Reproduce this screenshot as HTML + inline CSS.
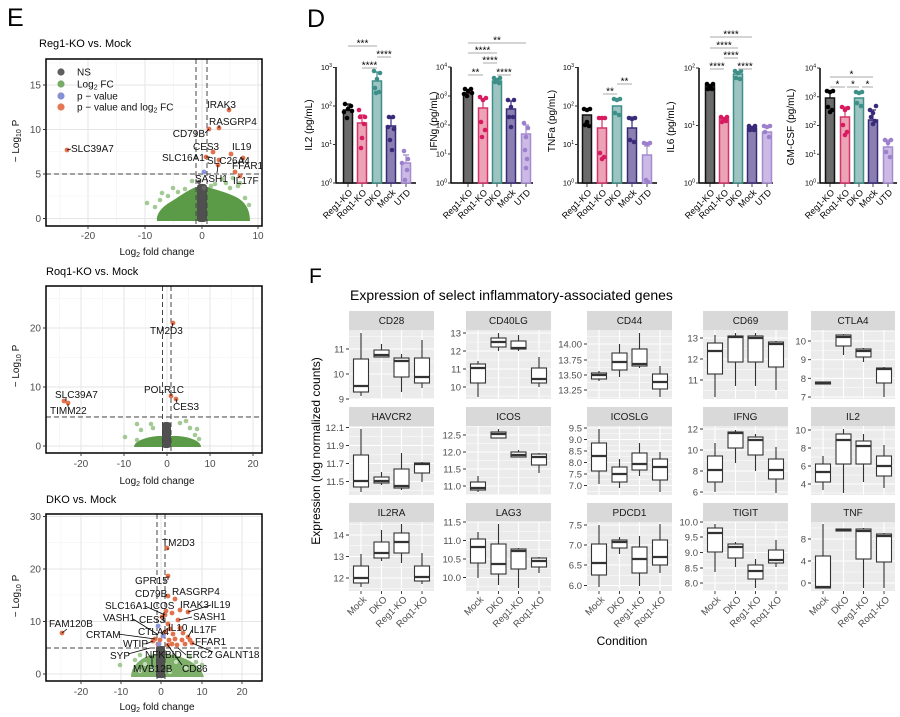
<!DOCTYPE html>
<html><head><meta charset="utf-8">
<style>
html,body{margin:0;padding:0;background:#fff;}
svg{display:block;font-family:"Liberation Sans",Arial,sans-serif;}
.gM{stroke:#e6e6e6;stroke-width:1;fill:none}
.gm{stroke:#f2f2f2;stroke-width:.6;fill:none}
.dash{stroke:#444;stroke-width:1;stroke-dasharray:5,3;fill:none}
.tk{stroke:#333;stroke-width:.9;fill:none}
.tl{font-size:10px;fill:#4d4d4d}
.lb{font-size:10px;fill:#111}
.cn{stroke:#000;stroke-width:.8;fill:none}
.r{fill:#e2714c}
.b{fill:#8a94d8}
.lg{fill:#93c082;opacity:.85}
.mj{stroke:#fff;stroke-width:1.1;fill:none}
.mn{stroke:#fff;stroke-width:.5;fill:none}
.bx{fill:#fff;stroke:#333;stroke-width:1.1}
.wk{stroke:#333;stroke-width:1.1;fill:none}
.md{stroke:#333;stroke-width:2.2;fill:none}
.ft{font-size:9.5px;fill:#4d4d4d}
.st{font-size:10px;fill:#1a1a1a}
.ax{stroke:#000;stroke-width:1.5;fill:none}
.dt{font-size:9px;fill:#000}
.yt{font-size:7.5px;fill:#000}
.sg{stroke:#aaa;stroke-width:1;fill:none}
.ss{font-size:10px;fill:#000;text-anchor:middle}
</style></head><body>
<svg width="900" height="717" viewBox="0 0 900 717" xmlns="http://www.w3.org/2000/svg">
<defs>
<clipPath id="c1"><rect x="46" y="59" width="216" height="167"/></clipPath>
<clipPath id="c2"><rect x="46" y="286" width="216" height="167"/></clipPath>
<clipPath id="c3"><rect x="46" y="514" width="216" height="167"/></clipPath>
</defs>

<!-- ================= PANEL E ================= -->
<text x="7" y="26" font-size="25">E</text>

<!-- Volcano 1 -->
<text x="39" y="47" font-size="11">Reg1-KO vs. Mock</text>
<g clip-path="url(#c1)">
<path class="gm" d="M60,59V226M116.5,59V226M173.5,59V226M230,59V226M46,196H262M46,151.5H262M46,107H262M46,63H262"/>
<path class="gM" d="M88,59V226M145,59V226M202,59V226M258,59V226M46,218.5H262M46,174H262M46,129.5H262M46,85H262"/>
<path d="M157,221C156,213 163,206 172,201C180,196 188,190 196,187L208,187C216,190 226,192 236,197C244,201 250,208 250,221Z" fill="#5b9b48"/>
<g class="lg">
<circle cx="147" cy="203" r="2.3"/><circle cx="162" cy="193" r="2.3"/><circle cx="168" cy="196" r="2.3"/><circle cx="173" cy="188" r="2.3"/><circle cx="178" cy="192" r="2.3"/><circle cx="185" cy="189" r="2.3"/><circle cx="192" cy="181" r="2.3"/><circle cx="211" cy="186" r="2.3"/><circle cx="222" cy="179" r="2.3"/><circle cx="226" cy="183" r="2.3"/><circle cx="233" cy="178" r="2.3"/><circle cx="238" cy="186" r="2.3"/><circle cx="240" cy="183" r="2.3"/><circle cx="245" cy="198" r="2.3"/><circle cx="249" cy="205" r="2.3"/><circle cx="155" cy="207" r="2.3"/><circle cx="160" cy="200" r="2.3"/><circle cx="230" cy="188" r="2.3"/><circle cx="215" cy="184" r="2.3"/>
</g>
<rect x="197" y="184" width="10" height="38" rx="3" fill="#505050"/>
<circle cx="199" cy="182" r="2.2" fill="#666"/><circle cx="204" cy="188" r="2.2" fill="#666"/>
<path class="dash" d="M196,59V226M207,59V226M46,174H262"/>
<g class="r">
<circle cx="229" cy="110" r="2.4"/><circle cx="219" cy="128" r="2.4"/><circle cx="209" cy="129" r="2.4"/><circle cx="213" cy="152" r="2.4"/><circle cx="231" cy="154" r="2.4"/><circle cx="243" cy="158" r="2.4"/><circle cx="219" cy="160" r="2.4"/><circle cx="218" cy="165" r="2.4"/><circle cx="235" cy="172" r="2.4"/><circle cx="240" cy="176" r="2.4"/><circle cx="67" cy="150" r="2.4"/><circle cx="206" cy="157" r="2.4"/>
</g>
<circle class="b" cx="204" cy="172" r="2.4"/>
<path class="cn" d="M229,107V110M219,125V128M205,133L209,129M206,157H210M217,173L218,165M238,178L240,176M71,149L67,150M243,162V158"/>
<g class="lb">
<text x="207" y="108">IRAK3</text><text x="209" y="125">RASGRP4</text><text x="205" y="137" text-anchor="end">CD79B</text>
<text x="193" y="150">CES3</text><text x="232" y="150">IL19</text><text x="162" y="161">SLC16A1</text>
<text x="207" y="164">SLC26A4</text><text x="232" y="169">FFAR1</text><text x="195" y="182">SASH1</text>
<text x="233" y="184">IL17F</text><text x="71" y="152">SLC39A7</text>
</g>
</g>
<!-- legend -->
<circle cx="61" cy="72" r="3.6" fill="#5f5f5f"/>
<circle cx="61" cy="84" r="3.6" fill="#79ab68"/>
<circle cx="61" cy="96" r="3.6" fill="#8690d6"/>
<circle cx="61" cy="107" r="3.6" fill="#e57752"/>
<g font-size="10" fill="#111">
<text x="77" y="75.5">NS</text>
<text x="77" y="87.5">Log<tspan font-size="7" dy="2">2</tspan><tspan dy="-2"> FC</tspan></text>
<text x="77" y="99.5">p − value</text>
<text x="77" y="110.5">p − value and log<tspan font-size="7" dy="2">2</tspan><tspan dy="-2"> FC</tspan></text>
</g>
<rect x="46" y="59" width="216" height="167" fill="none" stroke="#000" stroke-width="1.5"/>
<path class="tk" d="M43,218.5H46M43,174H46M43,129.5H46M43,85H46M88,226V229M145,226V229M202,226V229M258,226V229"/>
<g class="tl" text-anchor="end"><text x="41" y="222">0</text><text x="41" y="177.5">5</text><text x="41" y="133">10</text><text x="41" y="88.5">15</text></g>
<g class="tl" text-anchor="middle"><text x="88" y="239">-20</text><text x="145" y="239">-10</text><text x="202" y="239">0</text><text x="258" y="239">10</text></g>
<text x="157" y="255" font-size="10" text-anchor="middle" fill="#111">Log<tspan font-size="7" dy="2">2</tspan><tspan dy="-2"> fold change</tspan></text>
<text transform="translate(19,141) rotate(-90)" font-size="10" text-anchor="middle" fill="#111">− Log<tspan font-size="7" dy="2">10</tspan><tspan dy="-2"> P</tspan></text>

<!-- Volcano 2 -->
<text x="46" y="275" font-size="11">Roq1-KO vs. Mock</text>
<g clip-path="url(#c2)">
<path class="gm" d="M59.5,286V453M102.5,286V453M145.5,286V453M188.5,286V453M231.5,286V453M46,416.5H262M46,357.5H262M46,298.5H262"/>
<path class="gM" d="M81,286V453M124,286V453M167,286V453M210,286V453M253,286V453M46,446H262M46,387H262M46,328H262"/>
<path d="M134,447C134,441 146,437 158,436L178,436C190,437 201,441 201,447Z" fill="#5b9b48"/>
<g class="lg">
<circle cx="125" cy="437" r="2.3"/><circle cx="137" cy="424" r="2.3"/><circle cx="141" cy="430" r="2.3"/><circle cx="151" cy="424" r="2.3"/><circle cx="153" cy="428" r="2.3"/><circle cx="180" cy="423" r="2.3"/><circle cx="186" cy="421" r="2.3"/><circle cx="190" cy="428" r="2.3"/><circle cx="197" cy="429" r="2.3"/><circle cx="199" cy="439" r="2.3"/><circle cx="137" cy="440" r="2.3"/><circle cx="195" cy="435" r="2.3"/>
</g>
<rect x="162" y="422" width="9" height="26" rx="3" fill="#505050"/>
<path class="dash" d="M162.5,286V453M171,286V453M46,417H262"/>
<g class="r"><circle cx="173" cy="323" r="2.4"/><circle cx="171" cy="396" r="2.4"/><circle cx="176" cy="399" r="2.4"/><circle cx="64" cy="401" r="2.4"/><circle cx="68" cy="403" r="2.4"/></g>
<path class="cn" d="M172,327L173,323M171,393V396M177,403L176,399M66,398V401M68,407V404"/>
<g class="lb">
<text x="150" y="334">TM2D3</text><text x="144" y="393">POLR1C</text><text x="173" y="410">CES3</text>
<text x="55" y="398">SLC39A7</text><text x="50" y="414">TIMM22</text>
</g>
</g>
<rect x="46" y="286" width="216" height="167" fill="none" stroke="#000" stroke-width="1.5"/>
<path class="tk" d="M43,446H46M43,387H46M43,328H46M81,453V456M124,453V456M167,453V456M210,453V456M253,453V456"/>
<g class="tl" text-anchor="end"><text x="41" y="449.5">0</text><text x="41" y="390.5">10</text><text x="41" y="331.5">20</text></g>
<g class="tl" text-anchor="middle"><text x="81" y="467">-20</text><text x="124" y="467">-10</text><text x="167" y="467">0</text><text x="210" y="467">10</text><text x="253" y="467">20</text></g>
<text x="157" y="484" font-size="10" text-anchor="middle" fill="#111">Log<tspan font-size="7" dy="2">2</tspan><tspan dy="-2"> fold change</tspan></text>
<text transform="translate(19,366) rotate(-90)" font-size="10" text-anchor="middle" fill="#111">− Log<tspan font-size="7" dy="2">10</tspan><tspan dy="-2"> P</tspan></text>

<!-- Volcano 3 -->
<text x="46" y="503" font-size="11">DKO vs. Mock</text>
<g clip-path="url(#c3)">
<path class="gm" d="M61,514V681M101,514V681M141,514V681M181,514V681M222,514V681M262,514V681M46,648H262M46,595H262M46,542.5H262"/>
<path class="gM" d="M81,514V681M121,514V681M161,514V681M202,514V681M242,514V681M46,674H262M46,621.5H262M46,569H262M46,516.5H262"/>
<path d="M131,677C131,665 142,657 154,654L168,654C182,656 200,663 204,677Z" fill="#7fb06b"/>
<g fill="#e9f2e4" opacity=".7"><circle cx="145" cy="664" r="2"/><circle cx="152" cy="669" r="2"/><circle cx="176" cy="662" r="2"/><circle cx="186" cy="668" r="2"/><circle cx="170" cy="672" r="2"/><circle cx="140" cy="671" r="2"/></g>
<g class="lg"><circle cx="120" cy="665" r="2.3"/><circle cx="202" cy="665" r="2.3"/><circle cx="135" cy="660" r="2.3"/><circle cx="140" cy="655" r="2.3"/><circle cx="190" cy="657" r="2.3"/><circle cx="196" cy="662" r="2.3"/></g>
<rect x="156" y="646" width="9" height="32" rx="2" fill="#505050"/>
<path class="dash" d="M157,514V681M165,514V681M46,648H262"/>
<g class="r">
<circle cx="167" cy="548" r="2.4"/><circle cx="168" cy="576" r="2.4"/><circle cx="168" cy="596" r="2.4"/><circle cx="175" cy="599" r="2.4"/><circle cx="166" cy="611" r="2.4"/><circle cx="172" cy="613" r="2.4"/><circle cx="165" cy="615" r="2.4"/><circle cx="180" cy="610" r="2.4"/><circle cx="188" cy="612" r="2.4"/><circle cx="178" cy="620" r="2.4"/><circle cx="168" cy="624" r="2.4"/><circle cx="170" cy="629" r="2.4"/><circle cx="183" cy="633" r="2.4"/><circle cx="188" cy="637" r="2.4"/><circle cx="190" cy="640" r="2.4"/><circle cx="192" cy="643" r="2.4"/><circle cx="185" cy="644" r="2.4"/><circle cx="173" cy="634" r="2.4"/><circle cx="175" cy="639" r="2.4"/><circle cx="169" cy="640" r="2.4"/><circle cx="172" cy="644" r="2.4"/><circle cx="168" cy="645" r="2.4"/><circle cx="177" cy="645" r="2.4"/><circle cx="162" cy="617" r="2.4"/><circle cx="62" cy="633" r="2.4"/><circle cx="155" cy="639" r="2.4"/><circle cx="153" cy="641" r="2.4"/><circle cx="160" cy="640" r="2.4"/><circle cx="165" cy="632" r="2.4"/><circle cx="180" cy="628" r="2.4"/><circle cx="158" cy="644" r="2.4"/><circle cx="182" cy="640" r="2.4"/>
</g>
<g class="b"><circle cx="158" cy="626" r="2.4"/><circle cx="163" cy="636" r="2.4"/><circle cx="159" cy="644" r="2.4"/></g>
<path class="cn" d="M145,606L165,615M211,605L188,612M133,619L157,634M192,617L179,620M67,629L62,633M192,630L188,637M118,634L155,639M213,652L192,643M128,654L150,648M182,665L167,644M152,656V667M146,644L153,641M186,655L178,648M163,621L164,612M165,630L161,634M168,550V548M168,580V576"/>
<g class="lb">
<text x="162" y="546">TM2D3</text><text x="135" y="584">GPR15</text><text x="135" y="597">CD79B</text><text x="172" y="595">RASGRP4</text>
<text x="105" y="609">SLC16A1</text><text x="150" y="609">ICOS</text><text x="180" y="608">IRAK3</text><text x="211" y="608">IL19</text>
<text x="103" y="621">VASH1</text><text x="139" y="623">CES3</text><text x="193" y="620">SASH1</text><text x="49" y="627">FAM120B</text>
<text x="168" y="631">IL10</text><text x="138" y="635">CTLA4</text><text x="191" y="633">IL17F</text><text x="86" y="638">CRTAM</text>
<text x="195" y="645">FFAR1</text><text x="123" y="647">WTIP</text><text x="215" y="658">GALNT18</text><text x="186" y="658">ERC2</text>
<text x="145" y="658">NFKBID</text><text x="110" y="659">SYP</text><text x="133" y="672">MVB12B</text><text x="182" y="672">CD86</text>
</g>
</g>
<rect x="46" y="514" width="216" height="167" fill="none" stroke="#000" stroke-width="1.5"/>
<path class="tk" d="M43,674H46M43,621.5H46M43,569H46M43,516.5H46M81,681V684M121,681V684M161,681V684M202,681V684M242,681V684"/>
<g class="tl" text-anchor="end"><text x="41" y="677.5">0</text><text x="41" y="625">10</text><text x="41" y="572.5">20</text><text x="41" y="520">30</text></g>
<g class="tl" text-anchor="middle"><text x="81" y="695">-20</text><text x="121" y="695">-10</text><text x="161" y="695">0</text><text x="202" y="695">10</text><text x="242" y="695">20</text></g>
<text x="157" y="710" font-size="10" text-anchor="middle" fill="#111">Log<tspan font-size="7" dy="2">2</tspan><tspan dy="-2"> fold change</tspan></text>
<text transform="translate(19,596) rotate(-90)" font-size="10" text-anchor="middle" fill="#111">− Log<tspan font-size="7" dy="2">10</tspan><tspan dy="-2"> P</tspan></text>

<!-- ================= PANEL D ================= -->
<text x="307" y="27" font-size="25">D</text>

<!-- IL2 -->
<path class="ax" d="M336,67V183H416"/>
<path class="tk" d="M333,183H336M333,144.5H336M333,106H336M333,67.5H336M348,183V187M362,183V187M377,183V187M391,183V187M406,183V187"/>
<g class="yt" text-anchor="end"><text x="332" y="185.5">10<tspan font-size="5" dy="-3">0</tspan></text><text x="332" y="147">10<tspan font-size="5" dy="-3">1</tspan></text><text x="332" y="108.5">10<tspan font-size="5" dy="-3">2</tspan></text><text x="332" y="70">10<tspan font-size="5" dy="-3">3</tspan></text></g>
<text transform="translate(312,125) rotate(-90)" font-size="10" text-anchor="middle">IL2 (pg/mL)</text>
<rect x="343.5" y="110" width="9" height="73" fill="#6b6b6b" stroke="#111" stroke-width="1.5"/>
<rect x="357.5" y="123" width="9" height="60" fill="#eba3b5" stroke="#d6336c" stroke-width="1.5"/>
<rect x="372.5" y="81" width="9" height="102" fill="#9dc4c1" stroke="#3f8f89" stroke-width="1.5"/>
<rect x="386.5" y="126" width="9" height="57" fill="#8a7fb0" stroke="#3a2a7a" stroke-width="1.5"/>
<rect x="401.5" y="163" width="9" height="20" fill="#cbb9e6" stroke="#a48bd0" stroke-width="1.5"/>
<path d="M348,110V104M345,104H351" stroke="#111" stroke-width="1.2"/>
<path d="M362,123V115M359,115H365" stroke="#d6336c" stroke-width="1.2"/>
<path d="M377,81V72M374,72H380" stroke="#3f8f89" stroke-width="1.2"/>
<path d="M391,126V118M388,118H394" stroke="#3a2a7a" stroke-width="1.2"/>
<path d="M406,163V155M403,155H409" stroke="#a48bd0" stroke-width="1.2"/>
<g fill="#000"><circle cx="345" cy="104" r="2.3"/><circle cx="351" cy="106" r="2.3"/><circle cx="348" cy="109" r="2.3"/><circle cx="344" cy="112" r="2.3"/><circle cx="352" cy="111" r="2.3"/><circle cx="347" cy="118" r="2.3"/></g>
<g fill="#d81b60"><circle cx="359" cy="110" r="2.3"/><circle cx="365" cy="117" r="2.3"/><circle cx="360" cy="117" r="2.3"/><circle cx="364" cy="124" r="2.3"/><circle cx="362" cy="138" r="2.3"/><circle cx="361" cy="148" r="2.3"/></g>
<g fill="#3f8f89"><circle cx="374" cy="71" r="2.3"/><circle cx="380" cy="73" r="2.3"/><circle cx="377" cy="79" r="2.3"/><circle cx="375" cy="88" r="2.3"/><circle cx="379" cy="92" r="2.3"/><circle cx="376" cy="93" r="2.3"/></g>
<g fill="#3a2a7a"><circle cx="389" cy="117" r="2.3"/><circle cx="393" cy="117" r="2.3"/><circle cx="388" cy="127" r="2.3"/><circle cx="394" cy="129" r="2.3"/><circle cx="390" cy="140" r="2.3"/><circle cx="392" cy="150" r="2.3"/></g>
<g fill="#9c80cc"><circle cx="404" cy="151" r="2.3"/><circle cx="408" cy="159" r="2.3"/><circle cx="402" cy="163" r="2.3"/><circle cx="407" cy="170" r="2.3"/><circle cx="405" cy="180" r="2.3"/></g>
<path class="sg" d="M348,46H377M377,57H391M362,68H377"/>
<text class="ss" x="362.5" y="46.5">***</text><text class="ss" x="384" y="57.5">****</text><text class="ss" x="369.5" y="68.5">****</text>
<g class="dt" text-anchor="end">
<text transform="translate(353,193) rotate(-45)">Reg1-KO</text><text transform="translate(367,193) rotate(-45)">Roq1-KO</text><text transform="translate(382,193) rotate(-45)">DKO</text><text transform="translate(396,193) rotate(-45)">Mock</text><text transform="translate(411,193) rotate(-45)">UTD</text>
</g>

<!-- IFNg -->
<path class="ax" d="M451,67V183H533"/>
<path class="tk" d="M448,183H451M448,154H451M448,125H451M448,96H451M448,67H451M468,183V187M483,183V187M497,183V187M511,183V187M526,183V187"/>
<g class="yt" text-anchor="end"><text x="447" y="185.5">10<tspan font-size="5" dy="-3">0</tspan></text><text x="447" y="156.5">10<tspan font-size="5" dy="-3">1</tspan></text><text x="447" y="127.5">10<tspan font-size="5" dy="-3">2</tspan></text><text x="447" y="98.5">10<tspan font-size="5" dy="-3">3</tspan></text><text x="447" y="69.5">10<tspan font-size="5" dy="-3">4</tspan></text></g>
<text transform="translate(437,121) rotate(-90)" font-size="10" text-anchor="middle">IFNg (pg/mL)</text>
<rect x="463.5" y="93" width="9" height="90" fill="#6b6b6b" stroke="#111" stroke-width="1.5"/>
<rect x="478.5" y="108" width="9" height="75" fill="#eba3b5" stroke="#d6336c" stroke-width="1.5"/>
<rect x="492.5" y="81" width="9" height="102" fill="#9dc4c1" stroke="#3f8f89" stroke-width="1.5"/>
<rect x="506.5" y="109" width="9" height="74" fill="#8a7fb0" stroke="#3a2a7a" stroke-width="1.5"/>
<rect x="521.5" y="134" width="9" height="49" fill="#cbb9e6" stroke="#a48bd0" stroke-width="1.5"/>
<path d="M483,108V99M480,99H486" stroke="#d6336c" stroke-width="1.2"/>
<path d="M511,109V101M508,101H514" stroke="#3a2a7a" stroke-width="1.2"/>
<path d="M526,134V125M523,125H529" stroke="#a48bd0" stroke-width="1.2"/>
<g fill="#000"><circle cx="465" cy="89" r="2.3"/><circle cx="471" cy="89" r="2.3"/><circle cx="468" cy="91" r="2.3"/><circle cx="464" cy="94" r="2.3"/><circle cx="472" cy="93" r="2.3"/><circle cx="467" cy="96" r="2.3"/></g>
<g fill="#d81b60"><circle cx="480" cy="97" r="2.3"/><circle cx="486" cy="98" r="2.3"/><circle cx="483" cy="100" r="2.3"/><circle cx="481" cy="122" r="2.3"/><circle cx="485" cy="130" r="2.3"/><circle cx="482" cy="137" r="2.3"/></g>
<g fill="#3f8f89"><circle cx="494" cy="78" r="2.3"/><circle cx="500" cy="78" r="2.3"/><circle cx="497" cy="80" r="2.3"/><circle cx="495" cy="82" r="2.3"/><circle cx="499" cy="83" r="2.3"/></g>
<g fill="#3a2a7a"><circle cx="508" cy="100" r="2.3"/><circle cx="514" cy="100" r="2.3"/><circle cx="511" cy="107" r="2.3"/><circle cx="509" cy="117" r="2.3"/><circle cx="513" cy="117" r="2.3"/><circle cx="511" cy="127" r="2.3"/></g>
<g fill="#9c80cc"><circle cx="524" cy="123" r="2.3"/><circle cx="528" cy="128" r="2.3"/><circle cx="526" cy="137" r="2.3"/><circle cx="525" cy="150" r="2.3"/><circle cx="527" cy="159" r="2.3"/><circle cx="526" cy="168" r="2.3"/></g>
<path class="sg" d="M468,43H526M468,53H497M483,63H497M468,75H483M497,75H511"/>
<text class="ss" x="497" y="43.5">**</text><text class="ss" x="482.5" y="53.5">****</text><text class="ss" x="490" y="63.5">****</text><text class="ss" x="475.5" y="75.5">**</text><text class="ss" x="504" y="75.5">****</text>
<g class="dt" text-anchor="end">
<text transform="translate(473,193) rotate(-45)">Reg1-KO</text><text transform="translate(488,193) rotate(-45)">Roq1-KO</text><text transform="translate(502,193) rotate(-45)">DKO</text><text transform="translate(516,193) rotate(-45)">Mock</text><text transform="translate(531,193) rotate(-45)">UTD</text>
</g>

<!-- TNFa -->
<path class="ax" d="M578,67V183H657"/>
<path class="tk" d="M575,183H578M575,144.5H578M575,106H578M575,67.5H578M587,183V187M602,183V187M617,183V187M632,183V187M647,183V187"/>
<g class="yt" text-anchor="end"><text x="574" y="185.5">10<tspan font-size="5" dy="-3">0</tspan></text><text x="574" y="147">10<tspan font-size="5" dy="-3">1</tspan></text><text x="574" y="108.5">10<tspan font-size="5" dy="-3">2</tspan></text><text x="574" y="70">10<tspan font-size="5" dy="-3">3</tspan></text></g>
<text transform="translate(555,121) rotate(-90)" font-size="10" text-anchor="middle">TNFa (pg/mL)</text>
<rect x="582.5" y="115" width="9" height="68" fill="#6b6b6b" stroke="#111" stroke-width="1.5"/>
<rect x="597.5" y="128" width="9" height="55" fill="#eba3b5" stroke="#d6336c" stroke-width="1.5"/>
<rect x="612.5" y="106" width="9" height="77" fill="#9dc4c1" stroke="#3f8f89" stroke-width="1.5"/>
<rect x="627.5" y="128" width="9" height="55" fill="#8a7fb0" stroke="#3a2a7a" stroke-width="1.5"/>
<rect x="642.5" y="155" width="9" height="28" fill="#cbb9e6" stroke="#a48bd0" stroke-width="1.5"/>
<path d="M602,128V117M599,117H605" stroke="#d6336c" stroke-width="1.2"/>
<path d="M632,128V117M629,117H635" stroke="#3a2a7a" stroke-width="1.2"/>
<path d="M647,155V146M644,146H650" stroke="#a48bd0" stroke-width="1.2"/>
<g fill="#000"><circle cx="584" cy="109" r="2.3"/><circle cx="590" cy="109" r="2.3"/><circle cx="587" cy="110" r="2.3"/><circle cx="585" cy="125" r="2.3"/><circle cx="589" cy="126" r="2.3"/><circle cx="587" cy="122" r="2.3"/></g>
<g fill="#d81b60"><circle cx="599" cy="118" r="2.3"/><circle cx="605" cy="118" r="2.3"/><circle cx="602" cy="118" r="2.3"/><circle cx="600" cy="153" r="2.3"/><circle cx="604" cy="157" r="2.3"/><circle cx="602" cy="159" r="2.3"/></g>
<g fill="#3f8f89"><circle cx="614" cy="99" r="2.3"/><circle cx="620" cy="99" r="2.3"/><circle cx="617" cy="100" r="2.3"/><circle cx="615" cy="113" r="2.3"/><circle cx="619" cy="115" r="2.3"/></g>
<g fill="#3a2a7a"><circle cx="629" cy="118" r="2.3"/><circle cx="635" cy="118" r="2.3"/><circle cx="632" cy="119" r="2.3"/><circle cx="630" cy="140" r="2.3"/><circle cx="634" cy="142" r="2.3"/></g>
<g fill="#9c80cc"><circle cx="644" cy="143" r="2.3"/><circle cx="650" cy="143" r="2.3"/><circle cx="647" cy="144" r="2.3"/><circle cx="646" cy="180" r="2.3"/><circle cx="648" cy="182" r="2.3"/></g>
<path class="sg" d="M603,94H617M617,84H632"/>
<text class="ss" x="610" y="94.5">**</text><text class="ss" x="624.5" y="84.5">**</text>
<g class="dt" text-anchor="end">
<text transform="translate(592,193) rotate(-45)">Reg1-KO</text><text transform="translate(607,193) rotate(-45)">Roq1-KO</text><text transform="translate(622,193) rotate(-45)">DKO</text><text transform="translate(637,193) rotate(-45)">Mock</text><text transform="translate(652,193) rotate(-45)">UTD</text>
</g>

<!-- IL6 -->
<path class="ax" d="M699,68V183H773"/>
<path class="tk" d="M696,183H699M696,125.5H699M696,68H699M710,183V187M724,183V187M738,183V187M752,183V187M767,183V187"/>
<g class="yt" text-anchor="end"><text x="695" y="185.5">10<tspan font-size="5" dy="-3">0</tspan></text><text x="695" y="128">10<tspan font-size="5" dy="-3">1</tspan></text><text x="695" y="70.5">10<tspan font-size="5" dy="-3">2</tspan></text></g>
<text transform="translate(674,127) rotate(-90)" font-size="10" text-anchor="middle">IL6 (pg/mL)</text>
<rect x="705.5" y="86" width="9" height="97" fill="#6b6b6b" stroke="#111" stroke-width="1.5"/>
<rect x="719.5" y="119" width="9" height="64" fill="#eba3b5" stroke="#d6336c" stroke-width="1.5"/>
<rect x="733.5" y="74" width="9" height="109" fill="#9dc4c1" stroke="#3f8f89" stroke-width="1.5"/>
<rect x="747.5" y="128" width="9" height="55" fill="#8a7fb0" stroke="#3a2a7a" stroke-width="1.5"/>
<rect x="762.5" y="132" width="9" height="51" fill="#cbb9e6" stroke="#a48bd0" stroke-width="1.5"/>
<g fill="#000"><circle cx="707" cy="84" r="2.3"/><circle cx="713" cy="84" r="2.3"/><circle cx="710" cy="86" r="2.3"/><circle cx="708" cy="89" r="2.3"/><circle cx="712" cy="89" r="2.3"/></g>
<g fill="#d81b60"><circle cx="721" cy="117" r="2.3"/><circle cx="727" cy="117" r="2.3"/><circle cx="724" cy="119" r="2.3"/><circle cx="722" cy="122" r="2.3"/><circle cx="726" cy="121" r="2.3"/></g>
<g fill="#3f8f89"><circle cx="735" cy="71" r="2.3"/><circle cx="741" cy="71" r="2.3"/><circle cx="738" cy="73" r="2.3"/><circle cx="736" cy="78" r="2.3"/><circle cx="740" cy="79" r="2.3"/></g>
<g fill="#3a2a7a"><circle cx="749" cy="126" r="2.3"/><circle cx="755" cy="126" r="2.3"/><circle cx="752" cy="128" r="2.3"/><circle cx="750" cy="130" r="2.3"/><circle cx="754" cy="130" r="2.3"/></g>
<g fill="#9c80cc"><circle cx="764" cy="126" r="2.3"/><circle cx="770" cy="126" r="2.3"/><circle cx="767" cy="127" r="2.3"/><circle cx="765" cy="132" r="2.3"/><circle cx="769" cy="137" r="2.3"/></g>
<path class="sg" d="M710,37H752M710,48H738M724,58H738M710,69H724M738,69H752"/>
<text class="ss" x="731" y="37.5">****</text><text class="ss" x="724" y="48.5">****</text><text class="ss" x="731" y="58.5">****</text><text class="ss" x="717" y="69.5">****</text><text class="ss" x="745" y="69.5">****</text>
<g class="dt" text-anchor="end">
<text transform="translate(715,193) rotate(-45)">Reg1-KO</text><text transform="translate(729,193) rotate(-45)">Roq1-KO</text><text transform="translate(743,193) rotate(-45)">DKO</text><text transform="translate(757,193) rotate(-45)">Mock</text><text transform="translate(772,193) rotate(-45)">UTD</text>
</g>

<!-- GM-CSF -->
<path class="ax" d="M820,68V183H897"/>
<path class="tk" d="M817,183H820M817,154.25H820M817,125.5H820M817,96.75H820M817,68H820M830,183V187M845,183V187M859,183V187M873,183V187M888,183V187"/>
<g class="yt" text-anchor="end"><text x="816" y="185.5">10<tspan font-size="5" dy="-3">0</tspan></text><text x="816" y="156.75">10<tspan font-size="5" dy="-3">1</tspan></text><text x="816" y="128">10<tspan font-size="5" dy="-3">2</tspan></text><text x="816" y="99.25">10<tspan font-size="5" dy="-3">3</tspan></text><text x="816" y="70.5">10<tspan font-size="5" dy="-3">4</tspan></text></g>
<text transform="translate(794,127) rotate(-90)" font-size="10" text-anchor="middle">GM-CSF (pg/mL)</text>
<rect x="825.5" y="98" width="9" height="85" fill="#6b6b6b" stroke="#111" stroke-width="1.5"/>
<rect x="840.5" y="117" width="9" height="66" fill="#eba3b5" stroke="#d6336c" stroke-width="1.5"/>
<rect x="854.5" y="98" width="9" height="85" fill="#9dc4c1" stroke="#3f8f89" stroke-width="1.5"/>
<rect x="868.5" y="120" width="9" height="63" fill="#8a7fb0" stroke="#3a2a7a" stroke-width="1.5"/>
<rect x="883.5" y="147" width="9" height="36" fill="#cbb9e6" stroke="#a48bd0" stroke-width="1.5"/>
<path d="M830,98V91M827,91H833" stroke="#111" stroke-width="1.2"/>
<path d="M845,117V107M842,107H848" stroke="#d6336c" stroke-width="1.2"/>
<path d="M873,120V110M870,110H876" stroke="#3a2a7a" stroke-width="1.2"/>
<path d="M888,147V140M885,140H891" stroke="#a48bd0" stroke-width="1.2"/>
<g fill="#000"><circle cx="827" cy="91" r="2.3"/><circle cx="833" cy="91" r="2.3"/><circle cx="830" cy="92" r="2.3"/><circle cx="828" cy="107" r="2.3"/><circle cx="832" cy="110" r="2.3"/><circle cx="830" cy="112" r="2.3"/></g>
<g fill="#d81b60"><circle cx="842" cy="107" r="2.3"/><circle cx="848" cy="108" r="2.3"/><circle cx="845" cy="110" r="2.3"/><circle cx="843" cy="125" r="2.3"/><circle cx="847" cy="132" r="2.3"/><circle cx="845" cy="135" r="2.3"/></g>
<g fill="#3f8f89"><circle cx="856" cy="92" r="2.3"/><circle cx="862" cy="92" r="2.3"/><circle cx="859" cy="93" r="2.3"/><circle cx="857" cy="103" r="2.3"/><circle cx="861" cy="106" r="2.3"/></g>
<g fill="#3a2a7a"><circle cx="870" cy="110" r="2.3"/><circle cx="876" cy="106" r="2.3"/><circle cx="873" cy="113" r="2.3"/><circle cx="871" cy="117" r="2.3"/><circle cx="875" cy="121" r="2.3"/><circle cx="873" cy="124" r="2.3"/></g>
<g fill="#9c80cc"><circle cx="885" cy="140" r="2.3"/><circle cx="891" cy="140" r="2.3"/><circle cx="888" cy="143" r="2.3"/><circle cx="886" cy="152" r="2.3"/><circle cx="890" cy="157" r="2.3"/></g>
<path class="sg" d="M830,77H873M830,87H845M847,87H859M862,87H873"/>
<text class="ss" x="851.5" y="77.5">*</text><text class="ss" x="837.5" y="87.5">*</text><text class="ss" x="853" y="87.5">*</text><text class="ss" x="867.5" y="87.5">*</text>
<g class="dt" text-anchor="end">
<text transform="translate(835,193) rotate(-45)">Reg1-KO</text><text transform="translate(850,193) rotate(-45)">Roq1-KO</text><text transform="translate(864,193) rotate(-45)">DKO</text><text transform="translate(878,193) rotate(-45)">Mock</text><text transform="translate(893,193) rotate(-45)">UTD</text>
</g>

<!-- ================= PANEL F ================= -->
<text x="309" y="283" font-size="21">F</text>
<text x="350" y="300" font-size="14" fill="#000">Expression of select inflammatory-associated genes</text>

<!-- backgrounds -->
<g fill="#ebebeb">
<rect x="349" y="330" width="85" height="69"/><rect x="466" y="330" width="85" height="69"/><rect x="587" y="330" width="85" height="69"/><rect x="703" y="330" width="85" height="69"/><rect x="811" y="330" width="84" height="69"/>
<rect x="349" y="426" width="85" height="69"/><rect x="466" y="426" width="85" height="69"/><rect x="587" y="426" width="85" height="69"/><rect x="703" y="426" width="85" height="69"/><rect x="811" y="426" width="84" height="69"/>
<rect x="349" y="522" width="85" height="69"/><rect x="466" y="522" width="85" height="69"/><rect x="587" y="522" width="85" height="69"/><rect x="703" y="522" width="85" height="69"/><rect x="811" y="522" width="84" height="69"/>
</g>
<g fill="#d9d9d9">
<rect x="349" y="311" width="85" height="19"/><rect x="466" y="311" width="85" height="19"/><rect x="587" y="311" width="85" height="19"/><rect x="703" y="311" width="85" height="19"/><rect x="811" y="311" width="84" height="19"/>
<rect x="349" y="407" width="85" height="19"/><rect x="466" y="407" width="85" height="19"/><rect x="587" y="407" width="85" height="19"/><rect x="703" y="407" width="85" height="19"/><rect x="811" y="407" width="84" height="19"/>
<rect x="349" y="503" width="85" height="19"/><rect x="466" y="503" width="85" height="19"/><rect x="587" y="503" width="85" height="19"/><rect x="703" y="503" width="85" height="19"/><rect x="811" y="503" width="84" height="19"/>
</g>
<g class="st" text-anchor="middle">
<text x="391.5" y="324">CD28</text><text x="508.5" y="324">CD40LG</text><text x="629.5" y="324">CD44</text><text x="745.5" y="324">CD69</text><text x="853" y="324">CTLA4</text>
<text x="391.5" y="420">HAVCR2</text><text x="508.5" y="420">ICOS</text><text x="629.5" y="420">ICOSLG</text><text x="745.5" y="420">IFNG</text><text x="853" y="420">IL2</text>
<text x="391.5" y="516">IL2RA</text><text x="508.5" y="516">LAG3</text><text x="629.5" y="516">PDCD1</text><text x="745.5" y="516">TIGIT</text><text x="853" y="516">TNF</text>
</g>

<!-- minor grids -->
<path class="mn" d="
M349,386.5H434M349,361.5H434M349,336.5H434
M466,342H551M466,360H551M466,378H551M466,396H551
M587,336.5H672M587,352H672M587,367.5H672M587,382.5H672M587,397.5H672
M703,348.5H788M703,369.5H788M703,390.5H788
M811,331.7H895M811,350.3H895M811,369H895M811,387.7H895
M349,436.5H434M349,454.5H434M349,472.5H434M349,490.5H434
M466,426.5H551M466,443.5H551M466,460.5H551M466,477.5H551M466,494.5H551
M587,433.75H672M587,445.25H672M587,456.75H672M587,468.25H672M587,479.75H672M587,491.25H672
M703,439.5H788M703,460.5H788M703,481.5H788
M811,439H895M811,457H895M811,475H895M811,493H895
M349,524.25H434M349,545.75H434M349,567.25H434M349,588.75H434
M466,531.25H551M466,549.75H551M466,568.25H551M466,586.75H551
M587,535H672M587,555H672M587,575.25H672
M703,529.5H788M703,545H788M703,560H788M703,575.5H788M703,590.5H788
M811,528H895M811,550H895M811,572H895"/>
<!-- major grids -->
<path class="mj" d="
M349,399H434M349,374H434M349,349H434
M466,333H551M466,351H551M466,369H551M466,387H551
M587,344H672M587,360H672M587,375H672M587,390H672
M703,338H788M703,359H788M703,380H788
M811,341H895M811,359.7H895M811,378.3H895M811,397H895
M349,427.5H434M349,445.5H434M349,463.5H434M349,481.5H434
M466,435H551M466,452H551M466,469H551M466,486H551
M587,428H672M587,439.5H672M587,451H672M587,462.5H672M587,474H672M587,485.5H672
M703,429H788M703,450H788M703,471H788M703,492H788
M811,430H895M811,448H895M811,466H895M811,484H895
M349,535H434M349,556.5H434M349,578H434
M466,522H551M466,540.5H551M466,559H551M466,577.5H551
M587,525H672M587,545H672M587,565H672M587,585.5H672
M703,522H788M703,537H788M703,552.5H788M703,568H788M703,583H788
M811,539H895M811,561H895M811,583H895
M361,330V399M381.5,330V399M401.5,330V399M422,330V399M478,330V399M498.5,330V399M518.5,330V399M539,330V399M599,330V399M619.5,330V399M639.5,330V399M660,330V399M715,330V399M735.5,330V399M755.5,330V399M776,330V399M823,330V399M843.5,330V399M863.5,330V399M884,330V399
M361,426V495M381.5,426V495M401.5,426V495M422,426V495M478,426V495M498.5,426V495M518.5,426V495M539,426V495M599,426V495M619.5,426V495M639.5,426V495M660,426V495M715,426V495M735.5,426V495M755.5,426V495M776,426V495M823,426V495M843.5,426V495M863.5,426V495M884,426V495
M361,522V591M381.5,522V591M401.5,522V591M422,522V591M478,522V591M498.5,522V591M518.5,522V591M539,522V591M599,522V591M619.5,522V591M639.5,522V591M660,522V591M715,522V591M735.5,522V591M755.5,522V591M776,522V591M823,522V591M843.5,522V591M863.5,522V591M884,522V591"/>

<!-- whiskers -->
<path class="wk" d="
M361,333V359M361,392V396M381.5,344V350M381.5,357V357M401.5,354V358M401.5,377V392M422,340V358M422,383V388
M478,361V364M478,383V397M498.5,333V338M498.5,347V351M518.5,335V341M518.5,349V351M539,357V368M539,383V387
M599,371V373M599,379V381M619.5,344V353M619.5,370V377M639.5,333V349M639.5,366V368M660,366V374M660,389V397
M715,335V343M715,374V397M735.5,333V336M735.5,362V386M755.5,333V336M755.5,362V386M776,341V342M776,367V390
M843.5,334V335M843.5,346V355M863.5,348V349M863.5,357V362M884,367V368M884,383V397
M361,429V455M361,487V492M381.5,472V477M381.5,483V485M401.5,453V469M401.5,488V490M422,462V463M422,473V482
M478,476V482M478,490V492M498.5,429V432M518.5,450V452M539,453V454M539,465V473
M599,429V443M599,471V484M619.5,459V467M619.5,482V488M639.5,443V453M639.5,470V476M660,452V459M660,480V492
M715,443V456M715,482V492M735.5,430V432M735.5,448V463M755.5,434V437M755.5,455V471M776,447V459M776,479V493
M823,456V464M823,482V490M843.5,429V434M843.5,464V493M863.5,434V441M863.5,464V482M884,445V456M884,476V488
M361,554V566M361,583V587M381.5,530V542M381.5,558V561M401.5,524V533M401.5,553V563M422,553V566M422,581V584
M478,532V539M478,563V578M498.5,524V544M498.5,574V585M518.5,548V549M518.5,569V588M539,557V558M539,567V573
M599,525V544M599,575V587M619.5,537V540M619.5,548V554M639.5,536V547M639.5,573V586M660,524V540M660,565V573
M715,524V528M715,552V572M735.5,542V544M735.5,558V567M755.5,559V565M755.5,579V588M776,540V550M776,563V567
M823,524V556M863.5,528V529M863.5,559V588M884,533V534M884,562V588"/>
<!-- boxes -->
<g class="bx">
<rect x="353.5" y="359" width="15" height="33"/><rect x="374" y="350" width="15" height="7"/><rect x="394" y="358" width="15" height="19"/><rect x="414.5" y="358" width="15" height="25"/>
<rect x="470.5" y="364" width="15" height="19"/><rect x="491" y="338" width="15" height="9"/><rect x="511" y="341" width="15" height="8"/><rect x="531.5" y="368" width="15" height="15"/>
<rect x="591.5" y="373" width="15" height="6"/><rect x="612" y="353" width="15" height="17"/><rect x="632" y="349" width="15" height="17"/><rect x="652.5" y="374" width="15" height="15"/>
<rect x="707.5" y="343" width="15" height="31"/><rect x="728" y="336" width="15" height="26"/><rect x="748" y="336" width="15" height="26"/><rect x="768.5" y="342" width="15" height="25"/>
<rect x="815.5" y="382" width="15" height="2"/><rect x="836" y="335" width="15" height="11"/><rect x="856" y="349" width="15" height="8"/><rect x="876.5" y="368" width="15" height="15"/>
<rect x="353.5" y="455" width="15" height="32"/><rect x="374" y="477" width="15" height="6"/><rect x="394" y="469" width="15" height="19"/><rect x="414.5" y="463" width="15" height="10"/>
<rect x="470.5" y="482" width="15" height="8"/><rect x="491" y="432" width="15" height="6"/><rect x="511" y="452" width="15" height="5"/><rect x="531.5" y="454" width="15" height="11"/>
<rect x="591.5" y="443" width="15" height="28"/><rect x="612" y="467" width="15" height="15"/><rect x="632" y="453" width="15" height="17"/><rect x="652.5" y="459" width="15" height="21"/>
<rect x="707.5" y="456" width="15" height="26"/><rect x="728" y="432" width="15" height="16"/><rect x="748" y="437" width="15" height="18"/><rect x="768.5" y="459" width="15" height="20"/>
<rect x="815.5" y="464" width="15" height="18"/><rect x="836" y="434" width="15" height="30"/><rect x="856" y="441" width="15" height="23"/><rect x="876.5" y="456" width="15" height="20"/>
<rect x="353.5" y="566" width="15" height="17"/><rect x="374" y="542" width="15" height="16"/><rect x="394" y="533" width="15" height="20"/><rect x="414.5" y="566" width="15" height="15"/>
<rect x="470.5" y="539" width="15" height="24"/><rect x="491" y="544" width="15" height="30"/><rect x="511" y="549" width="15" height="20"/><rect x="531.5" y="558" width="15" height="9"/>
<rect x="591.5" y="544" width="15" height="31"/><rect x="612" y="540" width="15" height="8"/><rect x="632" y="547" width="15" height="26"/><rect x="652.5" y="540" width="15" height="25"/>
<rect x="707.5" y="528" width="15" height="24"/><rect x="728" y="544" width="15" height="14"/><rect x="748" y="565" width="15" height="14"/><rect x="768.5" y="550" width="15" height="13"/>
<rect x="815.5" y="556" width="15" height="32"/><rect x="836" y="529" width="15" height="2"/><rect x="856" y="529" width="15" height="30"/><rect x="876.5" y="534" width="15" height="28"/>
</g>
<!-- medians -->
<path class="md" d="
M353.5,386H368.5M374,355H389M394,361H409M414.5,377H429.5
M470.5,368H485.5M491,342H506M511,348H526M531.5,379H546.5
M591.5,375H606.5M612,362H627M632,364H647M652.5,382H667.5
M707.5,351H722.5M728,337H743M748,338H763M768.5,344H783.5
M815.5,383H830.5M836,337H851M856,351H871M876.5,369H891.5
M353.5,481H368.5M374,481H389M394,486H409M414.5,464H429.5
M470.5,488H485.5M491,434H506M511,455H526M531.5,457H546.5
M591.5,456H606.5M612,474H627M632,464H647M652.5,467H667.5
M707.5,470H722.5M728,433H743M748,440H763M768.5,470H783.5
M815.5,472H830.5M836,440H851M856,446H871M876.5,466H891.5
M353.5,578H368.5M374,553H389M394,542H409M414.5,577H429.5
M470.5,547H485.5M491,564H506M511,551H526M531.5,561H546.5
M591.5,563H606.5M612,542H627M632,559H647M652.5,557H667.5
M707.5,533H722.5M728,547H743M748,571H763M768.5,560H783.5
M815.5,587H830.5M836,530H851M856,531H871M876.5,536H891.5"/>

<!-- y ticks -->
<path class="tk" d="
M346,399H349M346,374H349M346,349H349
M463,333H466M463,351H466M463,369H466M463,387H466
M584,344H587M584,360H587M584,375H587M584,390H587
M700,338H703M700,359H703M700,380H703
M808,341H811M808,359.7H811M808,378.3H811M808,397H811
M346,427.5H349M346,445.5H349M346,463.5H349M346,481.5H349
M463,435H466M463,452H466M463,469H466M463,486H466
M584,428H587M584,439.5H587M584,451H587M584,462.5H587M584,474H587M584,485.5H587
M700,429H703M700,450H703M700,471H703M700,492H703
M808,430H811M808,448H811M808,466H811M808,484H811
M346,535H349M346,556.5H349M346,578H349
M463,522H466M463,540.5H466M463,559H466M463,577.5H466
M584,525H587M584,545H587M584,565H587M584,585.5H587
M700,522H703M700,537H703M700,552.5H703M700,568H703M700,583H703
M808,539H811M808,561H811M808,583H811
M361,591V594M381.5,591V594M401.5,591V594M422,591V594M478,591V594M498.5,591V594M518.5,591V594M539,591V594M599,591V594M619.5,591V594M639.5,591V594M660,591V594M715,591V594M735.5,591V594M755.5,591V594M776,591V594M823,591V594M843.5,591V594M863.5,591V594M884,591V594"/>
<g class="ft" text-anchor="end">
<text x="344" y="402.5">9</text><text x="344" y="377.5">10</text><text x="344" y="352.5">11</text>
<text x="461" y="336.5">13</text><text x="461" y="354.5">12</text><text x="461" y="372.5">11</text><text x="461" y="390.5">10</text>
<text x="582" y="347.5">14.00</text><text x="582" y="363.5">13.75</text><text x="582" y="378.5">13.50</text><text x="582" y="393.5">13.25</text>
<text x="698" y="341.5">13</text><text x="698" y="362.5">12</text><text x="698" y="383.5">11</text>
<text x="806" y="344.5">10</text><text x="806" y="363.2">9</text><text x="806" y="381.8">8</text><text x="806" y="400.5">7</text>
<text x="344" y="431">12.1</text><text x="344" y="449">11.9</text><text x="344" y="467">11.7</text><text x="344" y="485">11.5</text>
<text x="461" y="438.5">12.5</text><text x="461" y="455.5">12.0</text><text x="461" y="472.5">11.5</text><text x="461" y="489.5">11.0</text>
<text x="582" y="431.5">9.5</text><text x="582" y="443">9.0</text><text x="582" y="454.5">8.5</text><text x="582" y="466">8.0</text><text x="582" y="477.5">7.5</text><text x="582" y="489">7.0</text>
<text x="698" y="432.5">12</text><text x="698" y="453.5">10</text><text x="698" y="474.5">8</text><text x="698" y="495.5">6</text>
<text x="806" y="433.5">10</text><text x="806" y="451.5">8</text><text x="806" y="469.5">6</text><text x="806" y="487.5">4</text>
<text x="344" y="538.5">14</text><text x="344" y="560">13</text><text x="344" y="581.5">12</text>
<text x="461" y="525.5">11.5</text><text x="461" y="544">11.0</text><text x="461" y="562.5">10.5</text><text x="461" y="581">10.0</text>
<text x="582" y="528.5">7.5</text><text x="582" y="548.5">7.0</text><text x="582" y="568.5">6.5</text><text x="582" y="589">6.0</text>
<text x="698" y="525.5">10.0</text><text x="698" y="540.5">9.5</text><text x="698" y="556">9.0</text><text x="698" y="571.5">8.5</text><text x="698" y="586.5">8.0</text>
<text x="806" y="542.5">8</text><text x="806" y="564.5">4</text><text x="806" y="586.5">0</text>
</g>
<!-- x labels -->
<g class="ft" text-anchor="end">
<text transform="translate(367,600) rotate(-45)">Mock</text><text transform="translate(387.5,600) rotate(-45)">DKO</text><text transform="translate(407.5,600) rotate(-45)">Reg1-KO</text><text transform="translate(428,600) rotate(-45)">Roq1-KO</text>
<text transform="translate(484,600) rotate(-45)">Mock</text><text transform="translate(504.5,600) rotate(-45)">DKO</text><text transform="translate(524.5,600) rotate(-45)">Reg1-KO</text><text transform="translate(545,600) rotate(-45)">Roq1-KO</text>
<text transform="translate(605,600) rotate(-45)">Mock</text><text transform="translate(625.5,600) rotate(-45)">DKO</text><text transform="translate(645.5,600) rotate(-45)">Reg1-KO</text><text transform="translate(666,600) rotate(-45)">Roq1-KO</text>
<text transform="translate(721,600) rotate(-45)">Mock</text><text transform="translate(741.5,600) rotate(-45)">DKO</text><text transform="translate(761.5,600) rotate(-45)">Reg1-KO</text><text transform="translate(782,600) rotate(-45)">Roq1-KO</text>
<text transform="translate(829,600) rotate(-45)">Mock</text><text transform="translate(849.5,600) rotate(-45)">DKO</text><text transform="translate(869.5,600) rotate(-45)">Reg1-KO</text><text transform="translate(890,600) rotate(-45)">Roq1-KO</text>
</g>
<text x="622" y="645" font-size="12" text-anchor="middle" fill="#000">Condition</text>
<text transform="translate(320,451) rotate(-90)" font-size="12" text-anchor="middle" fill="#000">Expression (log normalized counts)</text>
</svg>
</body></html>
